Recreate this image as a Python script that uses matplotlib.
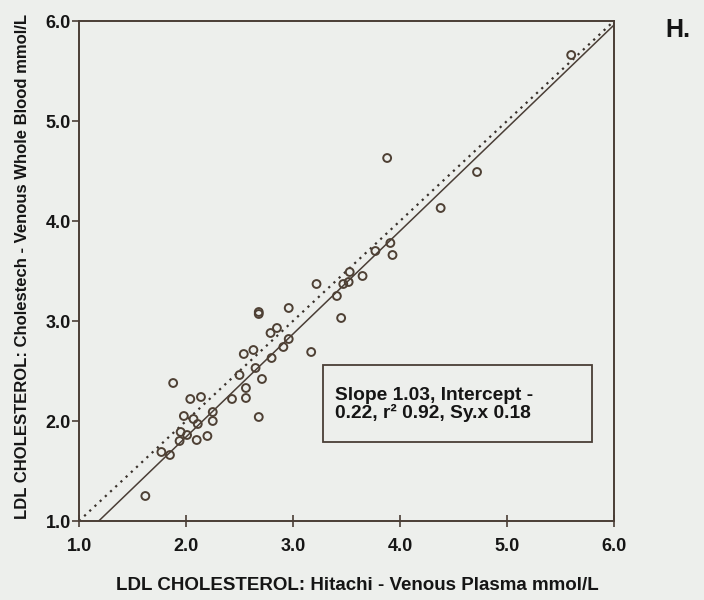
import matplotlib.pyplot as plt
from matplotlib.patches import Rectangle
import numpy as np

# LDL cholesterol, Hitachi (venous plasma) vs Cholestech (venous whole blood), mmol/L
hitachi = [1.62, 1.88, 2.04, 2.14, 2.25, 2.25, 1.98, 2.07, 2.11, 1.95,
           2.01, 1.94, 2.10, 2.20, 1.77, 1.85, 2.43, 2.56, 2.56, 2.50,
           2.71, 2.68, 2.65, 2.54, 2.63, 2.80, 2.91, 2.96, 2.79, 2.85,
           2.68, 2.68, 2.96, 3.17, 3.22, 3.41, 3.47, 3.52, 3.53, 3.65,
           3.45, 3.77, 3.91, 3.93, 3.88, 4.38, 4.72, 5.60]
cholestech = [1.25, 2.38, 2.22, 2.24, 2.09, 2.00, 2.05, 2.02, 1.97, 1.89,
              1.86, 1.80, 1.81, 1.85, 1.69, 1.66, 2.22, 2.23, 2.33, 2.46,
              2.42, 2.04, 2.53, 2.67, 2.71, 2.63, 2.74, 2.82, 2.88, 2.93,
              3.09, 3.07, 3.13, 2.69, 3.37, 3.25, 3.37, 3.39, 3.49, 3.45,
              3.03, 3.70, 3.78, 3.66, 4.63, 4.13, 4.49, 5.66]

slope = 1.03
intercept = -0.22
ticks = [1.0, 2.0, 3.0, 4.0, 5.0, 6.0]
stats_text = "Slope 1.03, Intercept -\n0.22, r\u00b2 0.92, Sy.x 0.18"

W, H = 704, 600
bg = "#edefec"
ink = "#4a3e36"
plt.rcParams['font.family'] = ['Liberation Sans', 'DejaVu Sans']

fig = plt.figure(figsize=(W / 100, H / 100), dpi=100, facecolor=bg)
ax = fig.add_axes([79 / W, 1 - 521 / H, (614 - 79) / W, (521 - 21) / H])
ax.set_facecolor(bg)

xs = np.array([1.0, 6.0])
ax.plot(xs, xs, linestyle=(0, (1, 2.2)), color="#3a322c", lw=1.6)
ax.plot(xs, slope * xs + intercept, color=ink, lw=1.1)
ax.scatter(hitachi, cholestech, s=32, facecolors="none", edgecolors="#4e4034",
           linewidths=1.4, zorder=3)

ax.set_xlim(1, 6)
ax.set_ylim(1, 6)
ax.set_xticks(ticks)
ax.set_yticks(ticks)
ax.set_xticklabels([f"{t:.1f}" for t in ticks])
ax.set_yticklabels([f"{t:.1f}" for t in ticks])
ax.tick_params(axis='x', direction='inout', length=8, width=1.2, color=ink,
               pad=8, labelsize=13)
ax.tick_params(axis='y', direction='out', length=5, width=1.2, color=ink,
               pad=1, labelsize=13)
for lab in ax.get_xticklabels() + ax.get_yticklabels():
    lab.set_fontweight('bold')
    lab.set_color("#151515")
for sp in ax.spines.values():
    sp.set_color(ink)
    sp.set_linewidth(1.4)

# stats box (wider than its text, text left aligned)
fig.patches.append(Rectangle((323 / W, 1 - 442 / H), (592 - 323) / W, (442 - 365) / H,
                             transform=fig.transFigure, facecolor='none',
                             edgecolor=ink, linewidth=1.3, zorder=4))
fig.text(335 / W, 1 - 404.5 / H, stats_text, ha='left', va='center',
         fontsize=13.8, fontweight='bold', color="#151515", linespacing=1.05)

fig.text(357 / W, 1 - 585 / H, "LDL CHOLESTEROL: Hitachi - Venous Plasma mmol/L",
         ha='center', va='center', fontsize=13.5, fontweight='bold', color="#151515")
fig.text(23 / W, 1 - 266 / H, "LDL CHOLESTEROL: Cholestech - Venous Whole Blood mmol/L",
         ha='center', va='center', rotation=90, fontsize=12, fontweight='bold',
         color="#151515")
fig.text(678 / W, 1 - 30 / H, "H.", ha='center', va='center', fontsize=18,
         fontweight='bold', color="#151515")

fig.savefig("out.png", dpi=100, facecolor=bg)
